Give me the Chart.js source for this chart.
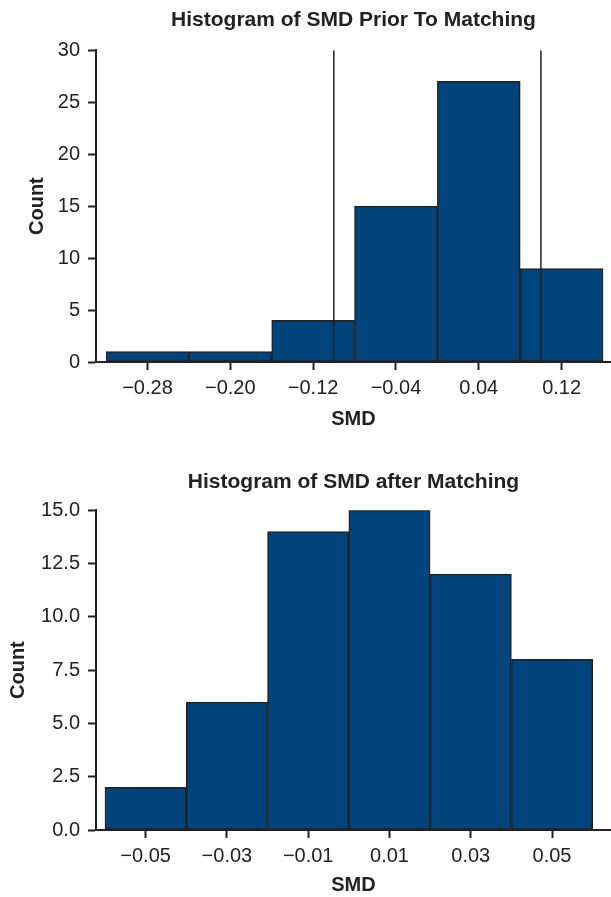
<!DOCTYPE html>
<html>
<head>
<meta charset="utf-8">
<script src="https://cdn.jsdelivr.net/npm/chart.js@4.4.1/dist/chart.umd.min.js"></script>
<style>
  body { margin: 0; background: #fff; }
  .box { position: relative; width: 611px; }
</style>
</head>
<body>
<div class="box" style="height:440px"><canvas id="prior"></canvas></div>
<div class="box" style="height:457px"><canvas id="after"></canvas></div>
<script>
// histogram data (bin centers + counts)
const priorCenters = [-0.28, -0.20, -0.12, -0.04, 0.04, 0.12];
const priorCounts = [1, 1, 4, 15, 27, 9];
const priorCutoffs = [-0.1, 0.1];
const priorYTicks = [0, 5, 10, 15, 20, 25, 30];

const afterCenters = [-0.05, -0.03, -0.01, 0.01, 0.03, 0.05];
const afterCounts = [2, 6, 14, 15, 12, 8];
const afterYTicks = [0, 2.5, 5, 7.5, 10, 12.5, 15];

const ink = '#222222';
const barBlue = '#01437b';
Chart.defaults.font.family = "'Liberation Sans', Arial, sans-serif";
Chart.defaults.color = ink;

function fmtX(v) {
    const s = Math.abs(v).toFixed(2);
    return v < -1e-9 ? '\u2212' + s : s;
}

function makeHist(id, o) {
    const datasets = [{
        type: 'bar',
        data: o.centers.map((c, i) => ({ x: c, y: o.counts[i] })),
        backgroundColor: barBlue,
        borderColor: ink,
        borderWidth: 1.5,
        borderSkipped: false,
        barPercentage: 1,
        categoryPercentage: 1,
        order: 1
    }];
    (o.cutoffs || []).forEach(c => {
        datasets.push({
            type: 'line',
            data: [{ x: c, y: 0 }, { x: c, y: o.yTicks[o.yTicks.length - 1] }],
            borderColor: ink,
            borderWidth: 1.5,
            pointRadius: 0,
            order: 0
        });
    });

    new Chart(document.getElementById(id), {
        type: 'bar',
        data: { datasets: datasets },
        options: {
            responsive: true,
            maintainAspectRatio: false,
            animation: false,
            layout: { padding: 0 },
            plugins: {
                legend: { display: false },
                tooltip: { enabled: false },
                title: {
                    display: true,
                    fullSize: false, // center over the plot, not the canvas
                    text: o.title,
                    color: ink,
                    font: { size: 21, weight: 'bold' },
                    padding: o.titlePad
                }
            },
            scales: {
                x: {
                    type: 'linear',
                    offset: false,
                    min: o.xMin,
                    max: o.xMax,
                    afterFit: s => { s.height = o.xHeight; },
                    afterBuildTicks: s => { s.ticks = o.centers.map(v => ({ value: v })); },
                    grid: { offset: false, drawOnChartArea: false, tickLength: 8, tickWidth: 2, tickColor: ink },
                    border: { display: true, color: ink, width: 2 },
                    ticks: {
                        autoSkip: false, maxRotation: 0, padding: 6,
                        font: { size: 20 }, color: ink,
                        callback: v => fmtX(v)
                    },
                    title: {
                        display: true, text: 'SMD', color: ink,
                        font: { size: 20, weight: 'bold' },
                        padding: { top: 0, bottom: o.xTitlePad }
                    }
                },
                y: {
                    min: 0,
                    max: o.yTicks[o.yTicks.length - 1],
                    afterFit: s => { s.width = 96; },
                    afterBuildTicks: s => { s.ticks = o.yTicks.map(v => ({ value: v })); },
                    grid: { drawOnChartArea: false, tickLength: 8, tickWidth: 2, tickColor: ink },
                    border: { display: true, color: ink, width: 2 },
                    ticks: {
                        padding: 8, font: { size: 20 }, color: ink,
                        callback: v => o.yFmt(v)
                    },
                    title: {
                        display: true, text: 'Count', color: ink,
                        font: { size: 20, weight: 'bold' },
                        padding: { top: o.yTitlePad, bottom: 0 }
                    }
                }
            }
        }
    });
}

makeHist('prior', {
    title: 'Histogram of SMD Prior To Matching',
    centers: priorCenters, counts: priorCounts, cutoffs: priorCutoffs, yTicks: priorYTicks,
    xMin: -0.3297, xMax: 0.1677,
    titlePad: { top: 8, bottom: 17 },
    xHeight: 78, xTitlePad: 9, yTitlePad: 25,
    yFmt: v => String(v)
});

makeHist('after', {
    title: 'Histogram of SMD after Matching',
    centers: afterCenters, counts: afterCounts, yTicks: afterYTicks,
    xMin: -0.06221, xMax: 0.06451,
    titlePad: { top: 30, bottom: 15 },
    xHeight: 67, xTitlePad: 0, yTitlePad: 6,
    yFmt: v => v.toFixed(1)
});
</script>
</body>
</html>
